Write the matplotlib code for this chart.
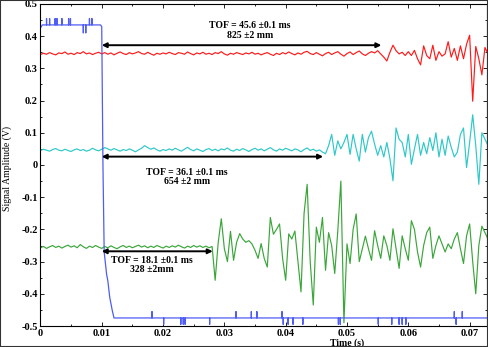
import numpy as np
import matplotlib
matplotlib.use('Agg')
import matplotlib.pyplot as plt
from matplotlib.patches import Rectangle

plt.rcParams['font.family'] = ['Liberation Serif', 'DejaVu Serif']

# 采样时间 (s)，每 0.5 ms 一个点
dt = 0.0005
n_pts = 147

# 红色信号 (825 mm)
red = [0.343, 0.347, 0.344, 0.349, 0.345, 0.342, 0.348, 0.346, 0.351, 0.344,
       0.347, 0.343, 0.349, 0.346, 0.352, 0.345, 0.348, 0.343, 0.347, 0.350,
       0.345, 0.349, 0.344, 0.348, 0.342, 0.347, 0.351, 0.346, 0.343, 0.349,
       0.345, 0.348, 0.352, 0.346, 0.344, 0.350, 0.345, 0.341, 0.347, 0.344,
       0.348, 0.345, 0.350, 0.346, 0.343, 0.349, 0.347, 0.344, 0.351, 0.346,
       0.342, 0.348, 0.345, 0.350, 0.344, 0.347, 0.343, 0.349, 0.346, 0.352,
       0.345, 0.341, 0.347, 0.344, 0.349, 0.346, 0.343, 0.348, 0.345, 0.350,
       0.344, 0.347, 0.342, 0.346, 0.349, 0.344, 0.340, 0.347, 0.343, 0.349,
       0.345, 0.351, 0.346, 0.342, 0.348, 0.344, 0.350, 0.353, 0.346, 0.343,
       0.349, 0.344, 0.339, 0.346, 0.350, 0.343, 0.348, 0.352, 0.344, 0.338,
       0.346, 0.351, 0.343, 0.349, 0.354, 0.345, 0.340, 0.347, 0.352, 0.348,
       0.355, 0.345, 0.335, 0.323, 0.350, 0.372, 0.355, 0.345, 0.350, 0.340,
       0.352, 0.340, 0.356, 0.330, 0.311, 0.370, 0.340, 0.330, 0.372, 0.325,
       0.352, 0.338, 0.345, 0.383, 0.335, 0.362, 0.325, 0.370, 0.330, 0.375,
       0.403, 0.198, 0.368, 0.330, 0.280, 0.365, 0.345]

# 青色信号 (654 mm)
cyan = [0.045, 0.049, 0.046, 0.043, 0.048, 0.051, 0.046, 0.044, 0.049, 0.045,
        0.042, 0.047, 0.050, 0.045, 0.048, 0.043, 0.046, 0.052, 0.047, 0.044,
        0.049, 0.054, 0.050, 0.046, 0.051, 0.047, 0.043, 0.048, 0.045, 0.050,
        0.046, 0.041, 0.047, 0.052, 0.060, 0.054, 0.049, 0.053, 0.047, 0.043,
        0.048, 0.045, 0.050, 0.046, 0.052, 0.047, 0.043, 0.049, 0.055, 0.048,
        0.044, 0.050, 0.046, 0.042, 0.048, 0.051, 0.045, 0.049, 0.044, 0.050,
        0.047, 0.053, 0.046, 0.043, 0.049, 0.045, 0.051, 0.047, 0.042, 0.048,
        0.052, 0.046, 0.050, 0.044, 0.049, 0.054, 0.047, 0.043, 0.050, 0.046,
        0.052, 0.048, 0.044, 0.050, 0.047, 0.041, 0.048, 0.053, 0.045, 0.049,
        0.043, 0.047, 0.040, 0.035, 0.060, 0.095, 0.030, 0.075, 0.050, 0.070,
        0.095, 0.033, 0.095, 0.050, 0.012, 0.095, 0.040, 0.085, 0.105, 0.065,
        0.030, 0.060, 0.025, 0.070, 0.020, -0.049, 0.115, 0.080, 0.070, 0.025,
        0.095, 0.002, 0.050, 0.095, 0.030, 0.070, 0.035, 0.085, 0.045, 0.100,
        0.025, 0.080, 0.030, 0.090, 0.055, 0.025, 0.040, 0.095, 0.115, -0.008,
        0.070, 0.156, 0.060, -0.060, 0.100, 0.080, 0.060]

# 绿色信号 (328 mm)
green = [-0.257, -0.253, -0.259, -0.254, -0.250, -0.256, -0.252, -0.258, -0.253, -0.249,
         -0.255, -0.251, -0.257, -0.247, -0.254, -0.259, -0.252, -0.256, -0.250, -0.255,
         -0.259, -0.253, -0.257, -0.251, -0.256, -0.260, -0.254, -0.250, -0.256, -0.252,
         -0.257, -0.253, -0.249, -0.255, -0.251, -0.257, -0.252, -0.256, -0.250, -0.254,
         -0.258, -0.252, -0.256, -0.251, -0.255, -0.249, -0.254, -0.258, -0.252, -0.256,
         -0.250, -0.255, -0.251, -0.256, -0.252, -0.257, -0.253, -0.358, -0.240, -0.167,
         -0.260, -0.300, -0.206, -0.296, -0.240, -0.213, -0.230, -0.240, -0.235, -0.245,
         -0.265, -0.290, -0.244, -0.290, -0.317, -0.163, -0.215, -0.200, -0.183, -0.290,
         -0.358, -0.214, -0.230, -0.205, -0.300, -0.394, -0.150, -0.060, -0.300, -0.435,
         -0.193, -0.240, -0.163, -0.327, -0.210, -0.250, -0.337, -0.204, -0.050, -0.490,
         -0.245, -0.306, -0.200, -0.152, -0.300, -0.260, -0.221, -0.260, -0.296, -0.204,
         -0.250, -0.290, -0.220, -0.250, -0.296, -0.198, -0.260, -0.321, -0.220, -0.260,
         -0.296, -0.173, -0.200, -0.270, -0.317, -0.250, -0.210, -0.193, -0.290, -0.250,
         -0.220, -0.245, -0.270, -0.245, -0.260, -0.230, -0.210, -0.260, -0.306, -0.220,
         -0.183, -0.300, -0.400, -0.250, -0.190, -0.210, -0.230]

# 蓝色触发信号：主折线 + 毛刺
blue_t = [0.0, 0.0003, 0.0098, 0.0100, 0.0102, 0.0104, 0.0108, 0.0110,
          0.0113, 0.0115, 0.0117, 0.0120, 0.0730]
blue_v = [0.425, 0.435, 0.435, 0.430, 0.000, -0.270, -0.340, -0.360,
          -0.410, -0.430, -0.450, -0.475, -0.475]
spike_t = [0.0010, 0.0015, 0.0024, 0.0027, 0.0035, 0.0046, 0.0049, 0.0070, 0.0074,
           0.0080, 0.0084, 0.0182, 0.0201, 0.0229, 0.0233, 0.0236, 0.0276, 0.0319,
           0.0344, 0.0353, 0.0394, 0.0396, 0.0404, 0.0412, 0.0428, 0.0486, 0.0489,
           0.0551, 0.0573, 0.0585, 0.0590, 0.0596, 0.0675, 0.0678, 0.0688]
spike_dv = [0.02, 0.02, 0.02, 0.02, 0.02, 0.02, 0.02, -0.025, -0.025,
            0.02, 0.02, 0.02, -0.02, -0.02, -0.02, -0.02, -0.02, 0.02,
            0.02, 0.02, 0.02, -0.02, -0.02, -0.02, -0.02, -0.02, -0.02,
            -0.02, -0.02, -0.02, -0.02, -0.02, 0.02, -0.02, 0.02]

# TOF 箭头与标注
tof_start = 0.0100
tof_ms = [45.6, 36.1, 18.1]
arrow_y = [0.372, 0.026, -0.268]
tof_text = ['TOF = 45.6 ±0.1 ms\n825 ±2 mm',
            'TOF = 36.1 ±0.1 ms\n654 ±2 mm',
            'TOF = 18.1 ±0.1 ms\n328 ±2mm']
text_x = [0.0342, 0.0239, 0.0182]
text_y = [0.418, -0.037, -0.311]

t = np.arange(n_pts) * dt

# 组合蓝色曲线
bt = list(blue_t)
bv = list(blue_v)
for st, dv in zip(spike_t, spike_dv):
    lvl = np.interp(st, blue_t, blue_v)
    bt += [st - 1e-5, st, st + 1e-5]
    bv += [lvl, lvl + dv, lvl]
order = np.argsort(bt)
bt = np.array(bt)[order]
bv = np.array(bv)[order]

fig = plt.figure(figsize=(4.88, 3.47), dpi=100)
ax = fig.add_axes([0.0828, 0.0605, 0.916, 0.928])

ax.plot(t, red, color='#ff1a1a', lw=0.85)
ax.plot(t, cyan, color='#2ec8c8', lw=0.85)
ax.plot(t, green, color='#3aa63a', lw=0.85)
ax.plot(bt, bv, color='#4f5cf5', lw=0.9)

for ms, y, txt, tx, ty in zip(tof_ms, arrow_y, tof_text, text_x, text_y):
    ax.annotate('', xy=(tof_start + ms / 1000, y), xytext=(tof_start, y),
                arrowprops=dict(arrowstyle='<|-|>', color='black', lw=1.4,
                                mutation_scale=7, shrinkA=0, shrinkB=0))
    ax.text(tx, ty, txt, ha='center', va='center', fontsize=7,
            fontweight='bold', linespacing=1.1)

ax.set_xlim(0, 0.0729)
ax.set_ylim(-0.5, 0.5)
ax.set_xticks(np.arange(0, 0.071, 0.01))
ax.set_xticklabels(['0', '0.01', '0.02', '0.03', '0.04', '0.05', '0.06', '0.07'])
ax.set_yticks(np.arange(-0.5, 0.51, 0.1))
ax.set_yticklabels(['-0.5', '-0.4', '-0.3', '-0.2', '-0.1', '0',
                    '0.1', '0.2', '0.3', '0.4', '0.5'])
ax.set_xticks(np.arange(0, 0.073, 0.005), minor=True)
ax.set_yticks(np.arange(-0.5, 0.51, 0.05), minor=True)
ax.tick_params(which='both', direction='in', top=True, right=True,
               labelsize=7.5, width=0.6)
ax.tick_params(which='major', length=3, pad=2)
ax.tick_params(which='minor', length=1.5)
for lab in ax.get_xticklabels() + ax.get_yticklabels():
    lab.set_fontweight('bold')

ax.set_xlabel('Time (s)', fontsize=7, fontweight='bold', labelpad=0)
ax.xaxis.set_label_coords(0.687, -0.038)
ax.set_ylabel('Signal Amplitude (V)', fontsize=7)
ax.yaxis.set_label_coords(-0.064, 0.49)

fig.patches.append(Rectangle((0, 0), 1, 1, transform=fig.transFigure,
                             fill=False, edgecolor='#333333', lw=1.5))

fig.savefig('out.png', dpi=100)
